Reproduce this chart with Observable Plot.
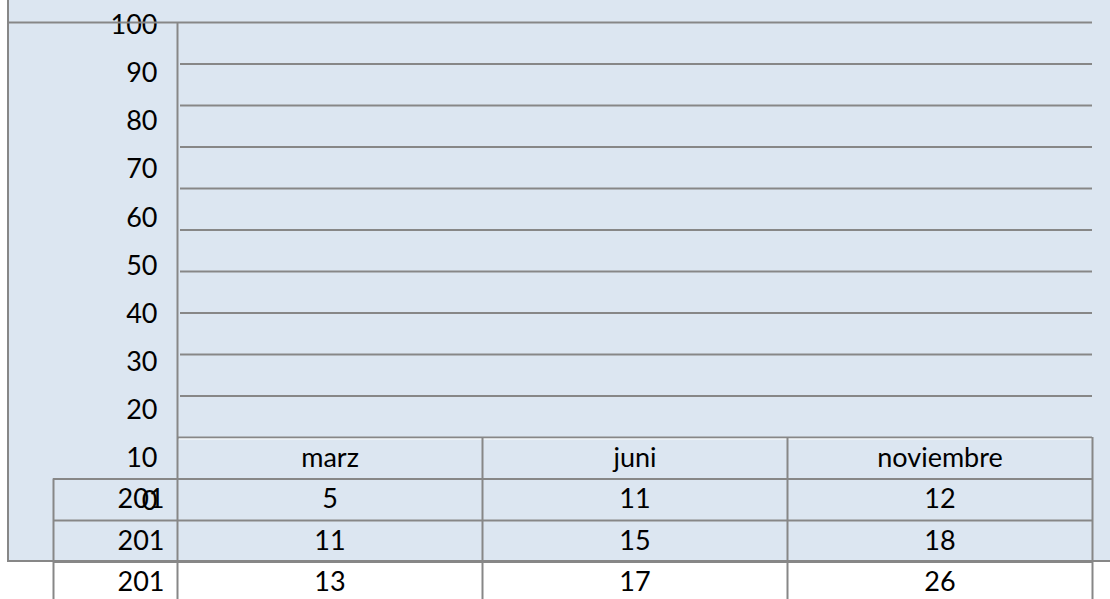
<!DOCTYPE html>
<html><head><meta charset="utf-8">
<script src="https://cdn.jsdelivr.net/npm/d3@7"></script>
<script src="https://cdn.jsdelivr.net/npm/@observablehq/plot@0.6"></script>
<style>
html,body{margin:0;padding:0;background:#fff;}
#wrap{position:relative;width:1110px;height:599px;overflow:hidden;}
#panel{position:absolute;left:7px;top:0;width:1103px;height:560px;background:#dce6f1;border-left:2px solid #878787;border-bottom:2px solid #878787;}
#wrap svg{position:absolute;left:0;top:0;}
</style></head><body><div id="wrap"><div id="panel"></div></div>
<script>
// Data
const months = ["marz", "juni", "noviembre"];
const years = ["201", "201", "201"];
const marz = [5, 11, 13];
const juni = [11, 15, 17];
const noviembre = [12, 18, 26];
const yTicks = [0, 10, 20, 30, 40, 50, 60, 70, 80, 90, 100];

const series = [marz, juni, noviembre];
const step = yTicks[1] - yTicks[0];
const rowY = i => -(i + 1.5) * step;
const rowEdges = years.map((_, i) => -(i + 1) * step);
const colEdges = d3.range(months.length + 1);
const cells = months.flatMap((m, j) => series[j].map((v, i) => ({col: j + 0.5, y: rowY(i), v})));
const heads = months.map((m, j) => ({col: j + 0.5, y: -step / 2, m}));
const rows = years.map((yr, i) => ({yr, y: rowY(i)}));
const bottom = -(years.length + 1) * step;
const LINE = "#878787";
const FONT = "Lato, 'Open Sans', sans-serif";
const FS = 27;

const main = Plot.plot({
  width: 1110, height: 599,
  marginLeft: 177, marginRight: 18, marginTop: 22, marginBottom: 0,
  x: {domain: [0, months.length], axis: null},
  y: {domain: [bottom, 100], range: [603, 22], axis: null},
  style: {background: "transparent", fontFamily: FONT, fontSize: FS + "px", color: "black"},
  marks: [
    // gridlines
    Plot.ruleY(yTicks.filter(t => t > 0 && t < 100), {stroke: LINE, strokeWidth: 2, insetLeft: 3, strokeOpacity: 1}),
    Plot.ruleY([100], {stroke: LINE, strokeWidth: 2, insetLeft: -169, strokeOpacity: 1}),
    Plot.ruleY([0], {stroke: LINE, strokeWidth: 2, strokeOpacity: 1}),
    Plot.ruleY([0], {stroke: "white", strokeWidth: 1, dy: 1.5, insetLeft: 2, strokeOpacity: 1}),
    // table row lines
    Plot.ruleY(rowEdges, {stroke: LINE, strokeWidth: 2, insetLeft: -124, strokeOpacity: 1}),
    // y axis line
    Plot.ruleX([0], {y1: 100, y2: bottom, stroke: LINE, strokeWidth: 2, strokeOpacity: 1}),
    // column borders
    Plot.ruleX(colEdges.slice(1), {y1: 0, y2: bottom, stroke: LINE, strokeWidth: 2, strokeOpacity: 1}),
    // row-label column left edge
    Plot.ruleX([0], {y1: -step, y2: bottom, dx: -124, stroke: LINE, strokeWidth: 2, strokeOpacity: 1}),
    // header
    Plot.text(heads, {x: "col", y: "y", text: "m", fill: "black", fontSize: FS}),
    // values
    Plot.text(cells, {x: "col", y: "y", text: d => String(d.v), fill: "black", fontSize: FS}),
    // row labels
    Plot.text(rows, {x: () => 0, y: "y", text: "yr", textAnchor: "end", dx: -13, fill: "black", fontSize: FS}),
    // the "0" tick label, which falls onto the first table row
    Plot.text(yTicks.filter(t => t === 0), {x: () => 0, y: () => rowY(0), text: d => String(d), textAnchor: "end", dx: -20, dy: 2, fill: "black", fontSize: FS})
  ]
});

const axis = Plot.plot({
  width: 177, height: 599,
  marginLeft: 160, marginRight: 0, marginTop: 25, marginBottom: 93,
  y: {domain: [0, 100]},
  style: {background: "transparent", fontFamily: FONT, fontSize: FS + "px", color: "black"},
  marks: [
    Plot.axisY(yTicks.filter(t => t > 0), {tickSize: 0, tickPadding: 3, label: null, fontSize: FS, fill: "black"})
  ]
});

const wrap = document.getElementById("wrap");
wrap.appendChild(axis);
wrap.appendChild(main);
</script>
</body></html>
